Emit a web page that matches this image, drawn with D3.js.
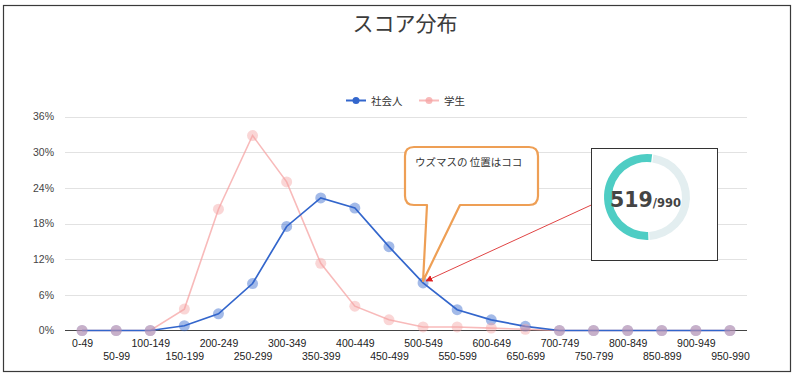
<!DOCTYPE html>
<html>
<head>
<meta charset="utf-8">
<script src="https://cdn.jsdelivr.net/npm/d3@7"></script>
<style>
  html, body { margin: 0; padding: 0; background: #fff; }
  svg { display: block; font-family: "Liberation Sans", Arial, "Noto Sans CJK JP", sans-serif; }
</style>
</head>
<body>
<svg id="chart" width="800" height="385"></svg>
<script>
// ---- data ----
const title = "スコア分布";
const categories = ["0-49","50-99","100-149","150-199","200-249","250-299","300-349","350-399","400-449","450-499","500-549","550-599","600-649","650-699","700-749","750-799","800-849","850-899","900-949","950-990"];
const seriesNames = ["社会人", "学生"];
const shakaijin = [0, 0, 0, 0.8, 2.8, 7.9, 17.5, 22.3, 20.6, 14.1, 8.0, 3.5, 1.8, 0.7, 0, 0, 0, 0, 0, 0];
const gakusei   = [0, 0, 0, 3.6, 20.4, 32.8, 25.0, 11.3, 4.1, 1.8, 0.6, 0.6, 0.4, 0.2, 0, 0, 0, 0, 0, 0];
const yTicks = [0, 6, 12, 18, 24, 30, 36];
const calloutText = "ウズマスの 位置はココ";
const highlightCategory = "500-549";
const score = 519;
const scoreMax = 990;

// ---- drawing ----
const svg = d3.select("#chart");
const W = 800, H = 385;

svg.append("rect").attr("x", 0).attr("y", 0).attr("width", W).attr("height", H).attr("fill", "#fff");
// frame
svg.append("rect").attr("x", 3.5).attr("y", 5.5).attr("width", 787).attr("height", 366)
  .attr("fill", "none").attr("stroke", "#3a3a3a").attr("stroke-width", 1.2);

svg.append("text").attr("x", 405).attr("y", 31).attr("text-anchor", "middle")
  .attr("font-family", "'Noto Sans CJK JP', sans-serif").attr("font-size", 21).attr("fill", "#3c3c3c")
  .text(title);

const x = d3.scalePoint().domain(categories).range([65, 747]).padding(0.5);
const y = d3.scaleLinear().domain([0, 36]).range([330.5, 116.5]);

// gridlines
const grid = svg.append("g");
grid.selectAll("line").data(yTicks.filter(d => d > 0)).join("line")
  .attr("x1", 65).attr("x2", 747)
  .attr("y1", d => Math.round(y(d)) + 0.5).attr("y2", d => Math.round(y(d)) + 0.5)
  .attr("stroke", "#e2e2e2").attr("stroke-width", 1);

// y axis labels
const yAxis = d3.axisLeft(y).tickValues(yTicks).tickFormat(d => d + "%").tickSize(0).tickPadding(0);
const yg = svg.append("g").attr("transform", "translate(54,0)").call(yAxis);
yg.select(".domain").remove();
yg.selectAll("text").attr("font-size", 10.5).attr("fill", "#444").attr("font-family", "'Liberation Sans', Arial, sans-serif");

// x axis labels (alternating rows)
const xAxis = d3.axisBottom(x).tickSize(0).tickPadding(0);
const xg = svg.append("g").attr("transform", "translate(0,331)").call(xAxis);
xg.select(".domain").remove();
xg.selectAll("text")
  .attr("font-size", 10.5).attr("fill", "#222").attr("font-family", "'Liberation Sans', Arial, sans-serif")
  .attr("dy", null)
  .attr("y", (d, i) => i % 2 === 0 ? 16 : 29);

// baseline
svg.append("line").attr("x1", 65).attr("x2", 747).attr("y1", 330.5).attr("y2", 330.5)
  .attr("stroke", "#444").attr("stroke-width", 1);

const line = d3.line().x((d, i) => x(categories[i])).y(d => y(d));

const blue = "#3366cc", pink = "#f5a3a3";

svg.append("path").datum(gakusei).attr("d", line).attr("fill", "none")
  .attr("stroke", pink).attr("stroke-opacity", 0.75).attr("stroke-width", 1.6);
svg.append("path").datum(shakaijin).attr("d", line).attr("fill", "none")
  .attr("stroke", blue).attr("stroke-width", 1.7);

svg.append("g").selectAll("circle").data(shakaijin).join("circle")
  .attr("cx", (d, i) => x(categories[i])).attr("cy", d => y(d)).attr("r", 5.5)
  .attr("fill", blue).attr("fill-opacity", 0.45);
svg.append("g").selectAll("circle").data(gakusei).join("circle")
  .attr("cx", (d, i) => x(categories[i])).attr("cy", d => y(d)).attr("r", 5.5)
  .attr("fill", pink).attr("fill-opacity", 0.45);

// legend
const lg = svg.append("g").attr("font-family", "'Noto Sans CJK JP', sans-serif").attr("font-size", 10.5).attr("fill", "#333");
const legendItems = [
  { name: seriesNames[0], color: blue, op: 1, x0: 346, tx: 371 },
  { name: seriesNames[1], color: pink, op: 0.75, x0: 419, tx: 444 }
];
legendItems.forEach(it => {
  lg.append("line").attr("x1", it.x0).attr("x2", it.x0 + 20).attr("y1", 100.5).attr("y2", 100.5)
    .attr("stroke", it.color).attr("stroke-opacity", it.op).attr("stroke-width", 2);
  lg.append("circle").attr("cx", it.x0 + 10).attr("cy", 100.5).attr("r", 3.5)
    .attr("fill", it.color).attr("fill-opacity", it.op);
  lg.append("text").attr("x", it.tx).attr("y", 104.5).text(it.name);
});

// callout bubble
const hx = x(highlightCategory);
const hy = y(shakaijin[categories.indexOf(highlightCategory)]);
const bx0 = 405, by0 = 147, bx1 = 538, by1 = 205, r = 9;
const tailL = 427, tailR = 460;
const p = d3.path();
p.moveTo(bx0 + r, by0);
p.lineTo(bx1 - r, by0);
p.quadraticCurveTo(bx1, by0, bx1, by0 + r);
p.lineTo(bx1, by1 - r);
p.quadraticCurveTo(bx1, by1, bx1 - r, by1);
p.lineTo(tailR, by1);
p.lineTo(hx, hy - 2);
p.lineTo(tailL, by1);
p.lineTo(bx0 + r, by1);
p.quadraticCurveTo(bx0, by1, bx0, by1 - r);
p.lineTo(bx0, by0 + r);
p.quadraticCurveTo(bx0, by0, bx0 + r, by0);
p.closePath();
svg.append("path").attr("d", p.toString()).attr("fill", "#fff").attr("fill-opacity", 1)
  .attr("stroke", "#ee9f55").attr("stroke-width", 2.2).attr("stroke-linejoin", "round");
svg.append("text").attr("x", 415).attr("y", 166)
  .attr("font-family", "'Noto Sans CJK JP', sans-serif").attr("font-size", 10.5).attr("fill", "#333")
  .text(calloutText);

// red arrow
const defs = svg.append("defs");
defs.append("marker").attr("id", "arrow").attr("viewBox", "0 0 10 10").attr("refX", 9).attr("refY", 5)
  .attr("markerWidth", 7).attr("markerHeight", 7).attr("markerUnits", "userSpaceOnUse").attr("orient", "auto")
  .append("path").attr("d", "M0,0 L10,5 L0,10 z").attr("fill", "#e02020");
svg.append("line").attr("x1", 600).attr("y1", 201).attr("x2", hx + 3).attr("y2", hy - 2)
  .attr("stroke", "#e04545").attr("stroke-width", 1).attr("marker-end", "url(#arrow)");

// gauge box
svg.append("rect").attr("x", 591.5).attr("y", 148.5).attr("width", 126).attr("height", 112)
  .attr("fill", "#fff").attr("stroke", "#333").attr("stroke-width", 1);
const gcx = 647, gcy = 197;
const frac = score / scoreMax;
const offset = 0.12;
const arc = d3.arc().innerRadius(35).outerRadius(43);
const g = svg.append("g").attr("transform", `translate(${gcx},${gcy})`);
g.append("path").attr("d", arc({ startAngle: offset + 0.03, endAngle: offset + 2 * Math.PI * (1 - frac) - 0.03 }))
  .attr("fill", "#e3eef0");
g.append("path").attr("d", arc({ startAngle: offset - 2 * Math.PI * frac, endAngle: offset }))
  .attr("fill", "#4ecdc4");
const st = svg.append("text").attr("x", 610).attr("y", 207)
  .attr("font-family", "'DejaVu Sans', Verdana, sans-serif").attr("font-weight", "bold").attr("fill", "#444");
st.append("tspan").attr("font-size", 20.5).text(score);
st.append("tspan").attr("font-size", 11.5).text("/" + scoreMax);
</script>
</body>
</html>
